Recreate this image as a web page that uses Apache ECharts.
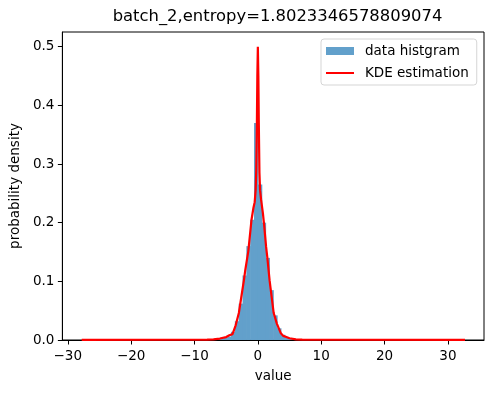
<!DOCTYPE html>
<html>
<head>
<meta charset="utf-8">
<script src="https://cdn.jsdelivr.net/npm/echarts@6/dist/echarts.min.js"></script>
<style>
html, body { margin: 0; padding: 0; background: #fff; }
#chart { width: 494px; height: 393px; }
</style>
</head>
<body>
<div id="chart"></div>
<script>
// histogram (density), bins of equal width starting at histStart
var histStart = -6.655;
var binWidth = 0.605;
var histHeights = [0.001, 0.002, 0.004, 0.006, 0.014, 0.032, 0.062, 0.11, 0.16, 0.205,
  0.37, 0.265, 0.2, 0.14, 0.085, 0.042, 0.02, 0.009, 0.005, 0.003, 0.0015, 0.0007];

// KDE curve
var kdeX = [-27.8, -12, -8, -7, -6, -5, -4.5, -4, -3.5, -3, -2.5, -2.2, -2, -1.5, -1, -0.7,
  -0.5, -0.35, -0.25, -0.15, -0.08, 0, 0.08, 0.15, 0.25, 0.35, 0.5, 0.8, 1, 1.3, 1.5, 1.85,
  2, 2.5, 3, 3.6, 4, 4.5, 5, 6, 7, 10, 32.7];
var kdeY = [0.0003, 0.0004, 0.0008, 0.0012, 0.0025, 0.005, 0.008, 0.01, 0.025, 0.046, 0.081,
  0.102, 0.118, 0.152, 0.205, 0.225, 0.235, 0.255, 0.29, 0.37, 0.45, 0.5, 0.45, 0.37, 0.285,
  0.255, 0.24, 0.216, 0.195, 0.159, 0.14, 0.102, 0.089, 0.046, 0.028, 0.012, 0.007, 0.005,
  0.003, 0.0012, 0.0007, 0.0004, 0.0003];

var xTicks = [-30, -20, -10, 0, 10, 20, 30];
var yTicks = [0, 0.1, 0.2, 0.3, 0.4, 0.5];

var histData = histHeights.map(function (h, i) {
  var a = histStart + i * binWidth;
  return [a, a + binWidth, h];
});
var kdeData = kdeX.map(function (x, i) { return [x, kdeY[i]]; });

var font = 'DejaVu Sans';
var histColor = '#62a0cb';

var chart = echarts.init(document.getElementById('chart'));
chart.setOption({
  animation: false,
  title: {
    text: 'batch_2,entropy=1.8023346578809074',
    left: 272.5,
    top: 4,
    textAlign: 'center',
    textStyle: { fontFamily: font, fontSize: 16.4, fontWeight: 'normal', color: '#000' }
  },
  legend: {
    orient: 'vertical',
    left: 321,
    top: 39,
    padding: [5, 8, 5, 5],
    itemGap: 8,
    itemWidth: 28,
    itemHeight: 8,
    borderColor: '#d5d5d5',
    borderWidth: 1,
    borderRadius: 3,
    backgroundColor: 'rgba(255,255,255,0.8)',
    textStyle: { fontFamily: font, fontSize: 13.5, color: '#000', lineHeight: 14, padding: [0, 0, 0, 6] },
    data: [
      { name: 'data histgram', icon: 'rect' },
      { name: 'KDE estimation', icon: 'path://M0,0 h28 v2 h-28 z' }
    ]
  },
  grid: {
    left: 61, right: 10, top: 32, bottom: 53,
    show: true, borderColor: '#000', borderWidth: 1
  },
  xAxis: {
    type: 'value',
    min: -30.855,
    max: 35.695,
    name: 'value',
    nameLocation: 'middle',
    nameGap: 29,
    nameTextStyle: { fontFamily: font, fontSize: 13.5, color: '#000' },
    axisLine: { show: true, onZero: false, lineStyle: { color: '#000' } },
    axisTick: { show: true, length: 4.5, customValues: xTicks, lineStyle: { color: '#000' } },
    axisLabel: {
      margin: 9, customValues: xTicks, fontFamily: font, fontSize: 13.5, color: '#000',
      formatter: function (v) { return String(v).replace('-', '\u2212'); }
    },
    splitLine: { show: false }
  },
  yAxis: {
    type: 'value',
    min: 0,
    max: 0.525,
    name: 'probability density',
    nameLocation: 'middle',
    nameGap: 38,
    nameTextStyle: { fontFamily: font, fontSize: 13.5, color: '#000' },
    axisLine: { show: true, onZero: false, lineStyle: { color: '#000' } },
    axisTick: { show: true, length: 4.5, customValues: yTicks, lineStyle: { color: '#000' } },
    axisLabel: {
      margin: 8, customValues: yTicks, fontFamily: font, fontSize: 13.5, color: '#000',
      formatter: function (v) { return v.toFixed(1); }
    },
    splitLine: { show: false }
  },
  series: [
    {
      name: 'data histgram',
      type: 'custom',
      itemStyle: { color: histColor },
      data: histData,
      renderItem: function (params, api) {
        var p0 = api.coord([api.value(0), api.value(2)]);
        var p1 = api.coord([api.value(1), 0]);
        return {
          type: 'rect',
          shape: { x: p0[0], y: p0[1], width: p1[0] - p0[0] + 0.6, height: p1[1] - p0[1] },
          style: { fill: histColor }
        };
      }
    },
    {
      name: 'KDE estimation',
      type: 'line',
      data: kdeData,
      symbol: 'none',
      lineStyle: { color: '#ff0000', width: 2.2 },
      itemStyle: { color: '#ff0000' },
      z: 3
    }
  ]
});
</script>
</body>
</html>
